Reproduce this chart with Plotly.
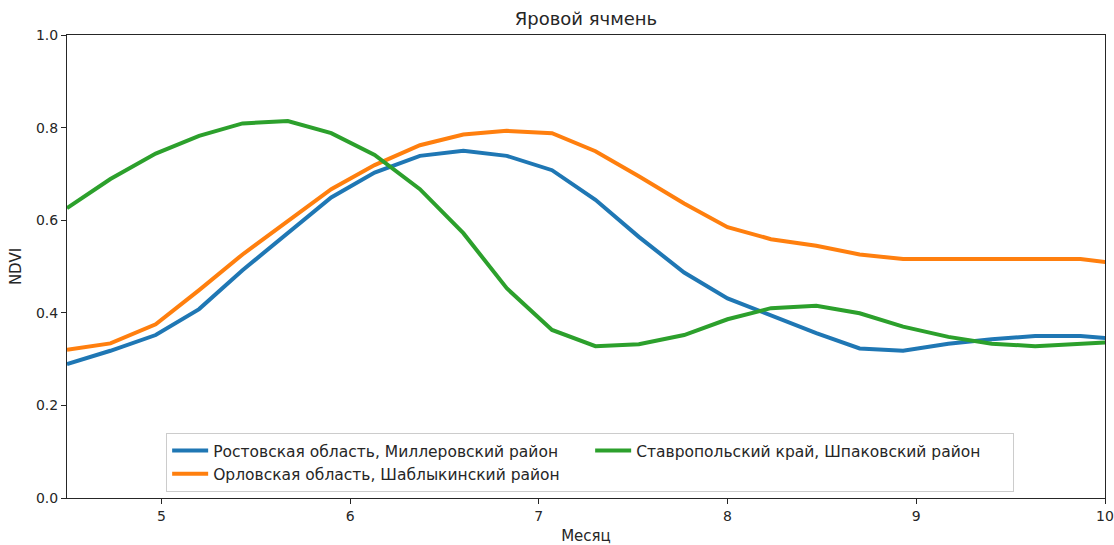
import plotly.graph_objects as go

# weekly observations, x in months
months = [4.5, 4.73, 4.97, 5.2, 5.43, 5.67, 5.9, 6.13, 6.37, 6.6, 6.83, 7.07, 7.3,
          7.53, 7.77, 8.0, 8.23, 8.47, 8.7, 8.93, 9.17, 9.4, 9.63, 9.87, 10.1]

rostov = [0.289, 0.318, 0.352, 0.408, 0.492, 0.572, 0.649, 0.703, 0.739, 0.750, 0.739,
          0.708, 0.644, 0.564, 0.487, 0.431, 0.395, 0.356, 0.323, 0.318, 0.333, 0.343,
          0.350, 0.350, 0.342]
orel = [0.320, 0.334, 0.375, 0.449, 0.526, 0.597, 0.667, 0.719, 0.762, 0.785, 0.793,
        0.788, 0.749, 0.695, 0.636, 0.585, 0.559, 0.545, 0.526, 0.516, 0.516, 0.516,
        0.517, 0.516, 0.505]
stavropol = [0.626, 0.689, 0.744, 0.782, 0.809, 0.814, 0.788, 0.741, 0.667, 0.572, 0.453,
             0.363, 0.328, 0.332, 0.352, 0.386, 0.410, 0.415, 0.399, 0.370, 0.348, 0.333,
             0.328, 0.333, 0.338]

names = [
    "Ростовская область, Миллеровский район",
    "Орловская область, Шаблыкинский район",
    "Ставропольский край, Шпаковский район",
]
colors = ["#1f77b4", "#ff7f0e", "#2ca02c"]
# matplotlib fills legend columns top-down; plotly fills rows, so reorder by rank
ranks = [1, 3, 2]

y_ticks = [0.0, 0.2, 0.4, 0.6, 0.8, 1.0]
x_ticks = [5, 6, 7, 8, 9, 10]

FONT = "DejaVu Sans"
INK = "#262626"

fig = go.Figure()
for nm, ys, col, rk in zip(names, [rostov, orel, stavropol], colors, ranks):
    fig.add_trace(go.Scatter(
        x=months, y=ys, mode="lines", name=nm,
        line=dict(color=col, width=4),
        legendrank=rk,
    ))

axis_common = dict(
    showline=True, linecolor=INK, linewidth=1, mirror=True,
    ticks="outside", ticklen=5, tickcolor=INK, tickwidth=1,
    showgrid=False, zeroline=False, ticklabeloverflow="allow",
    automargin=False,
    tickfont=dict(family=FONT, size=14, color=INK),
)

fig.update_layout(
    width=1114, height=545,
    paper_bgcolor="white", plot_bgcolor="white",
    margin=dict(l=67, r=9, t=35, b=47, autoexpand=False),
    title=dict(text="Яровой ячмень", x=0.5, xanchor="center", xref="paper",
               y=1 - 19 / 545, yanchor="middle",
               font=dict(family=FONT, size=18, color=INK)),
    xaxis=dict(range=[4.5, 10], tickvals=x_ticks,
               title=dict(text="Месяц", font=dict(family=FONT, size=15, color=INK), standoff=19),
               **axis_common),
    yaxis=dict(range=[0, 1], tickvals=y_ticks, tickformat=".1f",
               title=dict(text="NDVI", font=dict(family=FONT, size=15, color=INK), standoff=10),
               **axis_common),
    legend=dict(
        orientation="h", x=0.504, xanchor="center", y=0.013, yanchor="bottom",
        bgcolor="rgba(255,255,255,0.8)", bordercolor="#cccccc", borderwidth=1,
        font=dict(family=FONT, size=15.5, color=INK),
        itemwidth=36, entrywidth=372, traceorder="normal",
    ),
    showlegend=True,
)

# drop the default 8px body margin so the figure fills the window exactly
fig.write_html("out.html", config={"displayModeBar": False},
               post_script="document.body.style.margin='0';")
